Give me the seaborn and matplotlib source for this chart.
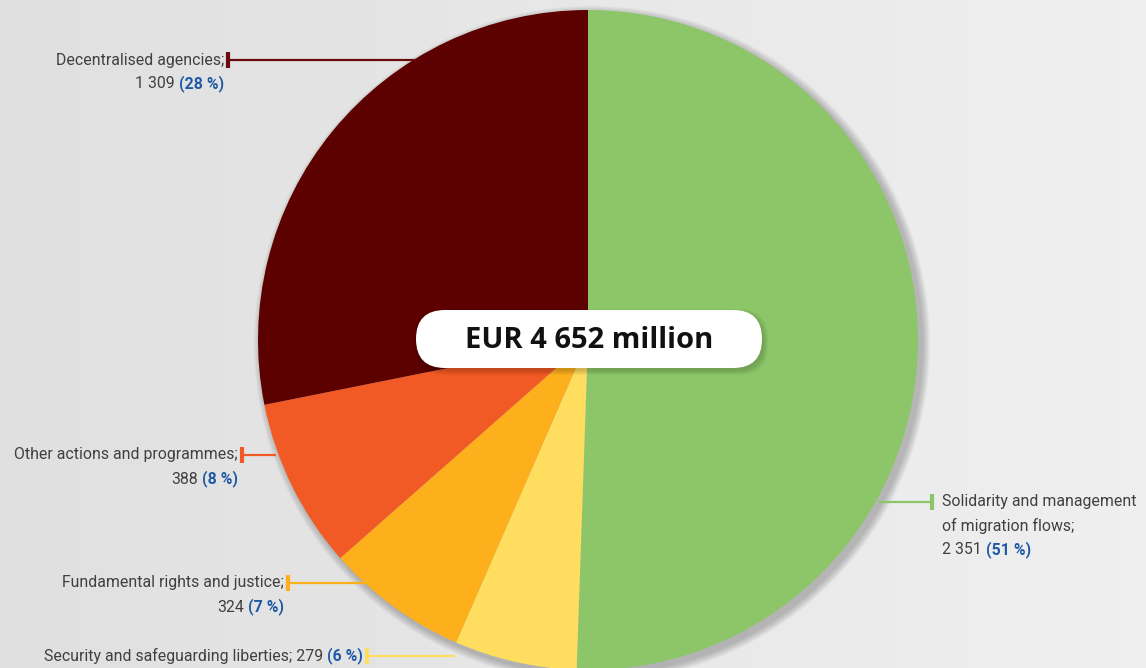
import numpy as np
import matplotlib.pyplot as plt
from matplotlib.patches import FancyBboxPatch, Circle
import seaborn as sns

# data
labels = ["Solidarity and management\nof migration flows;",
          "Security and safeguarding liberties;",
          "Fundamental rights and justice;",
          "Other actions and programmes;",
          "Decentralised agencies;"]
values = [2351, 279, 324, 388, 1309]
amounts = ["2 351", "279", "324", "388", "1 309"]
shares = ["(51 %)", "(6 %)", "(7 %)", "(8 %)", "(28 %)"]
total_label = "EUR 4 652 million"

colors = sns.color_palette(["#8cc668", "#ffdd5f", "#fdaf1c", "#f15a24", "#5c0000"])
line_colors = ["#8cc668", "#ffdd5f", "#fdaf1c", "#f15a24", "#6b0a0a"]

sns.set_style("white")
plt.rcParams['font.family'] = ['Roboto', 'DejaVu Sans']

W, H = 1146, 668
fig = plt.figure(figsize=(W / 100, H / 100), dpi=100)
ax = fig.add_axes([0, 0, 1, 1])

# background gradient
grad = np.linspace(0.875, 0.935, 256)
bg = np.tile(grad, (2, 1))
ax.imshow(bg, extent=[0, W, H, 0], cmap='gray', vmin=0, vmax=1, aspect='auto', zorder=0)

cx, cy, r = 588, 340, 330

# soft shadow
for i in range(10):
    ax.add_patch(Circle((cx + 4, cy + 4), r + 1 + i * 0.8, color='black',
                        alpha=0.022, lw=0, zorder=1))

# y axis is inverted below, so counterclock=True runs clockwise on screen
ax.pie(values, colors=colors, startangle=-90, counterclock=True,
       center=(cx, cy), radius=r, frame=True,
       wedgeprops=dict(linewidth=0, zorder=2))
ax.set_xlim(0, W)
ax.set_ylim(H, 0)
ax.set_aspect('equal')
ax.axis('off')

# leader lines: (tick x, y, line end x)
leaders = [(932, 502, 878), (367, 656, 455), (288, 583, 372), (242, 455, 276), (228, 60, 416)]
for (tx, ty, ex), c in zip(leaders, line_colors):
    ax.plot([tx, ex], [ty, ty], color=c, lw=1.6, zorder=3, solid_capstyle='butt')
    ax.plot([tx, tx], [ty - 8, ty + 8], color=c, lw=3, zorder=3, solid_capstyle='butt')

fig.canvas.draw()
renderer = fig.canvas.get_renderer()
inv = ax.transData.inverted()
fs = 11.4
grey = "#404040"
blue = "#1f5aa6"
gap = 4


def right_label(x, y, first, amount, share, one_line=False):
    if one_line:
        b = ax.text(x, y, share, ha='right', va='center', fontsize=fs,
                    fontweight='bold', color=blue, zorder=4)
        bb = b.get_window_extent(renderer)
        x0 = inv.transform((bb.x0, 0))[0]
        ax.text(x0 - gap, y, first + " " + amount, ha='right', va='center',
                fontsize=fs, color=grey, zorder=4)
        return
    ax.text(x, y, first, ha='right', va='center', fontsize=fs, color=grey, zorder=4)
    y2 = y + 24
    b = ax.text(x, y2, share, ha='right', va='center', fontsize=fs,
                fontweight='bold', color=blue, zorder=4)
    bb = b.get_window_extent(renderer)
    x0 = inv.transform((bb.x0, 0))[0]
    ax.text(x0 - gap, y2, amount, ha='right', va='center', fontsize=fs,
            color=grey, zorder=4)


# solidarity (left aligned, right side)
ax.text(942, 514, labels[0], ha='left', va='center', fontsize=fs, color=grey,
        linespacing=1.75, zorder=4)
a = ax.text(942, 550, amounts[0], ha='left', va='center', fontsize=fs,
            color=grey, zorder=4)
bb = a.get_window_extent(renderer)
x1 = inv.transform((bb.x1, 0))[0]
ax.text(x1 + gap, 550, shares[0], ha='left', va='center', fontsize=fs,
        fontweight='bold', color=blue, zorder=4)

right_label(363, 656, labels[1], amounts[1], shares[1], one_line=True)
right_label(284, 583, labels[2], amounts[2], shares[2])
right_label(238, 455, labels[3], amounts[3], shares[3])
right_label(224, 60, labels[4], amounts[4], shares[4])

# centre box with soft shadow
for i in range(5):
    ax.add_patch(FancyBboxPatch((416 + 2 - i, 310 + 3 - i), 346 + 2 * i, 58 + 2 * i,
                                boxstyle="round,pad=0,rounding_size=29",
                                fc='black', ec='none', alpha=0.035, zorder=5))
ax.add_patch(FancyBboxPatch((416, 310), 346, 58,
                            boxstyle="round,pad=0,rounding_size=29",
                            fc='white', ec='none', zorder=6))
ax.text(589, 340, total_label, ha='center', va='center', fontsize=21,
        fontweight='bold', color='#111111', family=['Open Sans', 'DejaVu Sans'], zorder=7)

fig.savefig("out.png", dpi=100)
